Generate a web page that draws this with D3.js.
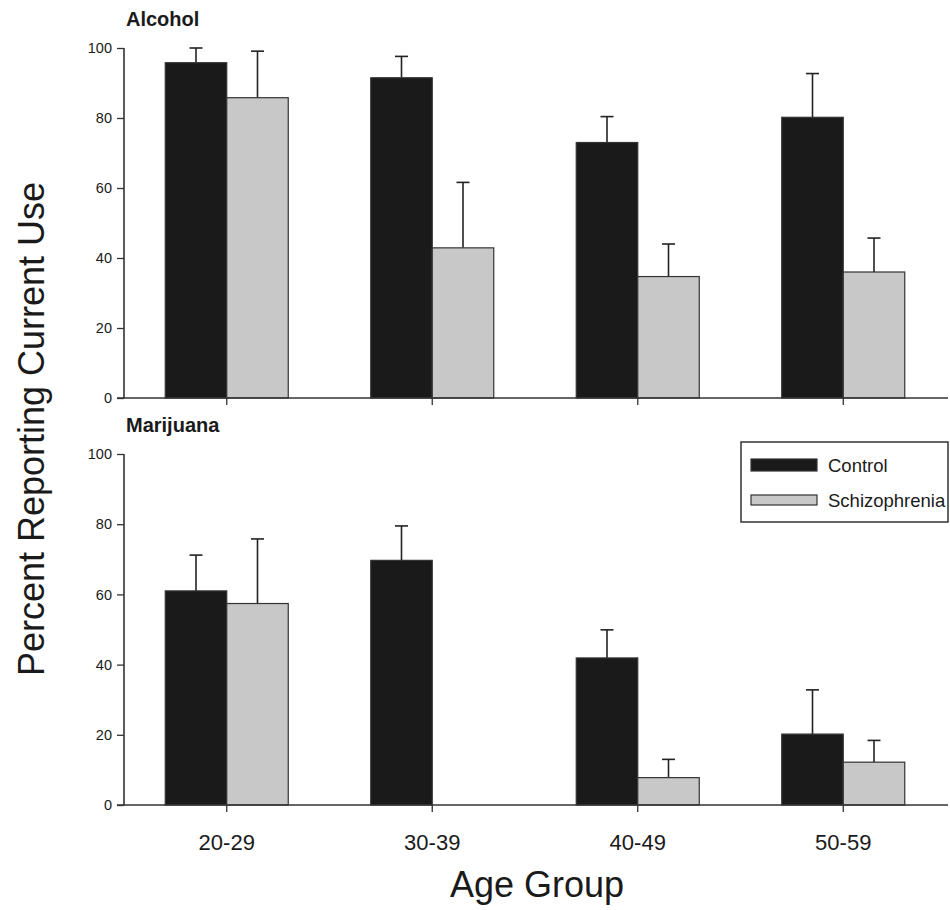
<!DOCTYPE html>
<html>
<head>
<meta charset="utf-8">
<script src="https://cdn.jsdelivr.net/npm/d3@7"></script>
<style>
  body { margin: 0; background: #fff; }
  text { font-family: Arial, "Liberation Sans", sans-serif; fill: #1a1a1a; }
</style>
</head>
<body>
<svg id="chart" width="950" height="910"></svg>
<script>
// age groups on the x axis
const ageGroups = ["20-29", "30-39", "40-49", "50-59"];
const groups = ["Control", "Schizophrenia"];
const yTicks = [0, 20, 40, 60, 80, 100];

// alcohol: percent reporting current use, and error (upper bar only)
const alcoholControl = [95.8, 91.5, 73.0, 80.2];
const alcoholControlErr = [4.2, 6.1, 7.4, 12.5];
const alcoholSchiz = [85.8, 42.9, 34.7, 36.0];
const alcoholSchizErr = [13.3, 18.7, 9.3, 9.7];

// marijuana
const marijuanaControl = [61.0, 69.7, 41.9, 20.2];
const marijuanaControlErr = [10.2, 9.8, 8.0, 12.6];
const marijuanaSchiz = [57.4, 0, 7.8, 12.2];
const marijuanaSchizErr = [18.4, 0, 5.2, 6.2];

document.addEventListener("DOMContentLoaded", function () {
  const svg = d3.select("#chart");
  const colors = { Control: "#1a1a1a", Schizophrenia: "#c8c8c8" };
  const font = "Arial, 'Liberation Sans', sans-serif";

  const x = d3.scaleBand().domain(ageGroups).range([124, 946]).padding(0);
  const barW = 61.5;
  const x1 = d3.scaleBand().domain(groups).range([-barW, barW]);
  const cx = (d) => x(d.age) + x.bandwidth() / 2 + x1(d.grp) + x1.bandwidth() / 2;

  const panels = [
    { title: "Alcohol", top: 48, bottom: 398, titleY: 26,
      series: [alcoholControl, alcoholSchiz], errs: [alcoholControlErr, alcoholSchizErr] },
    { title: "Marijuana", top: 454, bottom: 805, titleY: 432,
      series: [marijuanaControl, marijuanaSchiz], errs: [marijuanaControlErr, marijuanaSchizErr] },
  ];

  panels.forEach((p) => {
    const y = d3.scaleLinear().domain([0, 100]).range([p.bottom, p.top]);
    const g = svg.append("g");

    const rows = [];
    groups.forEach((grp, gi) => {
      ageGroups.forEach((age, i) => {
        rows.push({ age, grp, v: p.series[gi][i], e: p.errs[gi][i] });
      });
    });
    const shown = rows.filter((d) => d.v > 0);

    // error bars (upper half only)
    const eb = g.append("g").attr("stroke", "#222").attr("stroke-width", 1.6);
    eb.selectAll("line.stem").data(shown).enter().append("line")
      .attr("x1", cx).attr("x2", cx)
      .attr("y1", (d) => y(d.v))
      .attr("y2", (d) => y(d.v + d.e));
    eb.selectAll("line.cap").data(shown).enter().append("line")
      .attr("x1", (d) => cx(d) - 6.5)
      .attr("x2", (d) => cx(d) + 6.5)
      .attr("y1", (d) => y(d.v + d.e))
      .attr("y2", (d) => y(d.v + d.e));

    g.selectAll("rect").data(shown).enter().append("rect")
      .attr("x", (d) => x(d.age) + x.bandwidth() / 2 + x1(d.grp))
      .attr("y", (d) => y(d.v))
      .attr("width", x1.bandwidth())
      .attr("height", (d) => p.bottom - y(d.v))
      .attr("fill", (d) => colors[d.grp])
      .attr("stroke", "#333")
      .attr("stroke-width", 1.2);

    // y axis
    const yAxis = g.append("g").attr("transform", "translate(124,0)")
      .call(d3.axisLeft(y).tickValues(yTicks).tickSize(7).tickPadding(5));
    yAxis.select(".domain").attr("stroke", "#333").attr("stroke-width", 1.6)
      .attr("d", `M0,${p.top}V${p.bottom}`);
    yAxis.selectAll(".tick line").attr("stroke", "#333").attr("stroke-width", 1.3);
    yAxis.selectAll(".tick text").attr("font-size", 14.5).attr("font-family", font).attr("fill", "#1a1a1a");

    // x axis
    const xAxis = g.append("g").attr("transform", `translate(0,${p.bottom})`)
      .call(d3.axisBottom(x).tickSize(7).tickPadding(22));
    xAxis.select(".domain").attr("stroke", "#333").attr("stroke-width", 1.6)
      .attr("d", `M117,0H948`);
    xAxis.selectAll(".tick line").attr("stroke", "#333").attr("stroke-width", 1.3);
    xAxis.selectAll(".tick text").attr("font-size", 22).attr("font-family", font).attr("fill", "#1a1a1a");
    if (p.title === "Alcohol") xAxis.selectAll(".tick text").remove();

    g.append("text").attr("x", 126).attr("y", p.titleY)
      .attr("font-size", 20).attr("font-weight", "bold").text(p.title);
  });

  // legend
  const leg = svg.append("g").attr("transform", "translate(741,442)");
  leg.append("rect").attr("width", 207).attr("height", 80)
    .attr("fill", "#fff").attr("stroke", "#333").attr("stroke-width", 1.5);
  groups.forEach((grp, i) => {
    const ly = 23 + i * 35;
    leg.append("rect").attr("x", 10).attr("y", ly - (i === 0 ? 6 : 5))
      .attr("width", 66).attr("height", i === 0 ? 12 : 10)
      .attr("fill", colors[grp]).attr("stroke", "#333").attr("stroke-width", 1.2);
    leg.append("text").attr("x", 87).attr("y", ly + 7)
      .attr("font-size", 18.5).text(grp);
  });

  // axis titles
  svg.append("text")
    .attr("transform", "translate(44,429) rotate(-90)")
    .attr("text-anchor", "middle").attr("font-size", 36)
    .text("Percent Reporting Current Use");
  svg.append("text")
    .attr("x", 537).attr("y", 897)
    .attr("text-anchor", "middle").attr("font-size", 36)
    .text("Age Group");
});
</script>
</body>
</html>
